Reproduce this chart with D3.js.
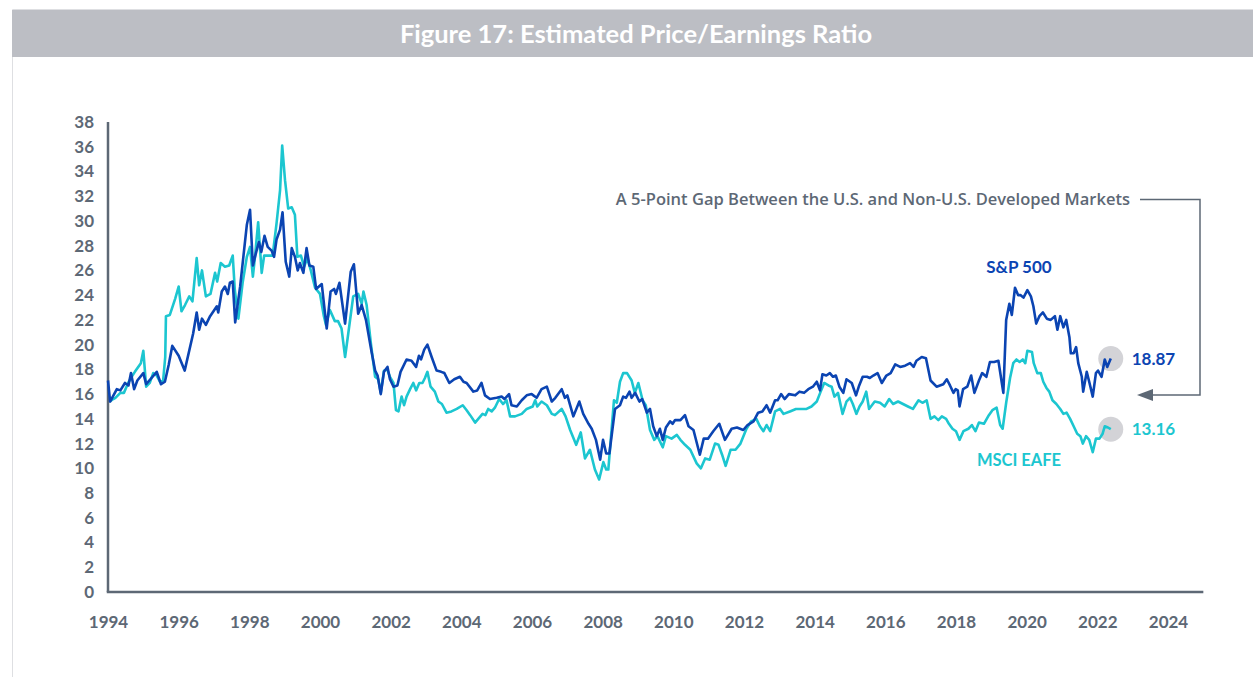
<!DOCTYPE html>
<html>
<head>
<meta charset="utf-8">
<script src="https://cdn.jsdelivr.net/npm/d3@7"></script>
<style>
  body { margin: 0; background: #fff; }
  svg { display: block; font-family: Lato, "Open Sans", sans-serif; }
</style>
</head>
<body>
<svg id="chart" width="1253" height="677"></svg>
<script>
// S&P 500 forward P/E (decimal years)
const spDates = [1994.00, 1994.06, 1994.25, 1994.35, 1994.48, 1994.58, 1994.65, 1994.74, 1994.83, 1995.00,
  1995.08, 1995.20, 1995.38, 1995.50, 1995.61, 1995.72, 1995.82, 1996.00, 1996.17, 1996.41,
  1996.51, 1996.58, 1996.66, 1996.77, 1996.89, 1997.08, 1997.12, 1997.22, 1997.31, 1997.39,
  1997.45, 1997.53, 1997.60, 1997.74, 1997.85, 1997.93, 1998.02, 1998.10, 1998.16, 1998.27,
  1998.34, 1998.43, 1998.52, 1998.63, 1998.70, 1998.77, 1998.87, 1998.94, 1999.03, 1999.13,
  1999.20, 1999.29, 1999.37, 1999.43, 1999.53, 1999.62, 1999.70, 1999.81, 1999.89, 2000.05,
  2000.19, 2000.30, 2000.40, 2000.45, 2000.55, 2000.71, 2000.87, 2000.96, 2001.08, 2001.18,
  2001.30, 2001.46, 2001.56, 2001.63, 2001.72, 2001.81, 2001.91, 2001.98, 2002.08, 2002.19,
  2002.28, 2002.45, 2002.59, 2002.72, 2002.80, 2002.86, 2002.95, 2003.04, 2003.16, 2003.30,
  2003.43, 2003.52, 2003.66, 2003.80, 2003.96, 2004.06, 2004.15, 2004.34, 2004.45, 2004.57,
  2004.67, 2004.81, 2005.00, 2005.14, 2005.22, 2005.35, 2005.42, 2005.57, 2005.71, 2005.85,
  2005.99, 2006.13, 2006.27, 2006.42, 2006.56, 2006.66, 2006.84, 2006.93, 2007.00, 2007.17,
  2007.34, 2007.45, 2007.60, 2007.69, 2007.81, 2007.93, 2008.01, 2008.10, 2008.19, 2008.35,
  2008.49, 2008.58, 2008.66, 2008.76, 2008.82, 2008.92, 2009.04, 2009.12, 2009.25, 2009.34,
  2009.43, 2009.53, 2009.62, 2009.70, 2009.79, 2009.91, 2009.98, 2010.05, 2010.20, 2010.33,
  2010.43, 2010.57, 2010.75, 2010.86, 2010.98, 2011.13, 2011.30, 2011.46, 2011.65, 2011.80,
  2011.98, 2012.10, 2012.27, 2012.40, 2012.52, 2012.64, 2012.74, 2012.88, 2012.95, 2013.05,
  2013.15, 2013.27, 2013.45, 2013.57, 2013.70, 2013.82, 2013.95, 2014.06, 2014.15, 2014.22,
  2014.33, 2014.43, 2014.52, 2014.60, 2014.70, 2014.81, 2014.90, 2015.05, 2015.17, 2015.26,
  2015.36, 2015.48, 2015.56, 2015.66, 2015.78, 2015.90, 2016.03, 2016.15, 2016.28, 2016.42,
  2016.56, 2016.70, 2016.80, 2016.88, 2017.03, 2017.15, 2017.28, 2017.45, 2017.64, 2017.74,
  2017.83, 2017.93, 2017.99, 2018.05, 2018.10, 2018.20, 2018.32, 2018.43, 2018.52, 2018.65,
  2018.74, 2018.86, 2018.96, 2019.08, 2019.20, 2019.34, 2019.42, 2019.51, 2019.58, 2019.67,
  2019.76, 2019.83, 2019.91, 2020.02, 2020.12, 2020.19, 2020.27, 2020.36, 2020.46, 2020.57,
  2020.68, 2020.80, 2020.87, 2020.95, 2021.04, 2021.12, 2021.21, 2021.25, 2021.33, 2021.40,
  2021.46, 2021.56, 2021.60, 2021.70, 2021.77, 2021.87, 2021.96, 2022.02, 2022.12, 2022.21,
  2022.28, 2022.38]
const spValues = [17.1, 15.4, 16.4, 16.3, 16.9, 16.7, 17.7, 16.4, 17.1, 17.7,
  16.8, 17.2, 17.8, 16.8, 17.0, 18.4, 19.9, 19.1, 17.9, 20.9,
  22.6, 21.2, 22.1, 21.6, 22.3, 23.1, 22.6, 24.3, 24.7, 24.1,
  25.0, 25.1, 21.8, 24.7, 27.6, 29.7, 30.9, 26.4, 27.1, 28.3,
  27.5, 28.8, 27.9, 27.6, 27.1, 28.5, 29.3, 30.7, 26.7, 25.5,
  27.8, 27.1, 26.0, 26.6, 25.8, 27.8, 26.4, 26.3, 24.5, 24.9,
  21.3, 24.3, 24.5, 24.1, 25.0, 21.7, 25.9, 26.5, 22.5, 23.2,
  22.0, 19.4, 17.9, 17.5, 16.0, 17.8, 18.2, 17.2, 16.6, 16.7,
  17.8, 18.8, 18.7, 18.2, 19.1, 18.8, 19.6, 20.0, 19.0, 17.9,
  17.8, 17.7, 16.9, 17.2, 17.4, 17.0, 16.9, 16.2, 16.3, 16.9,
  15.9, 15.6, 15.7, 15.8, 15.6, 16.0, 15.1, 15.0, 15.5, 15.9,
  16.0, 15.7, 16.4, 16.6, 15.4, 15.7, 16.4, 15.7, 15.9, 14.2,
  15.4, 14.4, 13.6, 13.2, 12.3, 10.7, 12.3, 11.2, 11.2, 14.8,
  15.1, 15.8, 15.7, 16.2, 15.7, 16.1, 15.4, 15.6, 14.5, 14.8,
  13.4, 12.6, 13.2, 12.3, 13.3, 13.8, 13.6, 13.9, 13.9, 14.3,
  13.4, 13.1, 11.1, 12.4, 12.4, 13.0, 13.6, 12.3, 13.2, 13.3,
  13.1, 13.5, 13.8, 14.5, 14.6, 15.1, 14.5, 15.5, 15.5, 16.0,
  15.6, 16.0, 15.9, 16.2, 16.1, 16.4, 16.6, 17.0, 16.3, 17.6,
  17.5, 17.7, 17.4, 17.5, 16.6, 16.1, 17.2, 16.9, 15.9, 16.7,
  17.4, 17.4, 17.3, 17.5, 17.7, 16.9, 17.5, 17.7, 18.4, 18.2,
  18.3, 18.5, 18.2, 18.7, 19.0, 18.9, 17.1, 16.6, 16.8, 17.2,
  16.7, 16.1, 16.4, 16.3, 15.0, 16.4, 16.6, 17.5, 16.1, 17.1,
  17.7, 17.4, 18.6, 18.6, 18.7, 16.1, 22.0, 23.3, 22.4, 24.6,
  24.0, 24.0, 23.8, 24.4, 23.9, 23.1, 21.7, 22.3, 22.6, 22.1,
  22.0, 22.3, 21.2, 22.3, 21.4, 22.0, 20.6, 19.3, 19.3, 19.8,
  18.5, 17.4, 16.2, 17.8, 17.0, 15.8, 17.7, 17.9, 17.4, 18.8,
  18.2, 18.87]

// MSCI EAFE forward P/E
const eafeDates = [1994.05, 1994.15, 1994.21, 1994.35, 1994.45, 1994.57, 1994.67, 1994.76, 1994.88, 1994.93,
  1995.00, 1995.08, 1995.18, 1995.28, 1995.38, 1995.47, 1995.56, 1995.62, 1995.64, 1995.75,
  1995.90, 1996.00, 1996.08, 1996.18, 1996.30, 1996.39, 1996.51, 1996.58, 1996.66, 1996.77,
  1996.90, 1997.03, 1997.09, 1997.19, 1997.31, 1997.43, 1997.53, 1997.59, 1997.69, 1997.81,
  1997.93, 1998.02, 1998.10, 1998.16, 1998.25, 1998.35, 1998.42, 1998.55, 1998.66, 1998.77,
  1998.87, 1998.93, 1999.01, 1999.10, 1999.20, 1999.29, 1999.36, 1999.46, 1999.55, 1999.64,
  1999.74, 1999.86, 2000.00, 2000.11, 2000.17, 2000.28, 2000.42, 2000.51, 2000.61, 2000.71,
  2000.80, 2000.94, 2001.08, 2001.18, 2001.23, 2001.32, 2001.44, 2001.56, 2001.65, 2001.72,
  2001.81, 2001.90, 2001.98, 2002.08, 2002.15, 2002.22, 2002.31, 2002.38, 2002.45, 2002.55,
  2002.64, 2002.72, 2002.81, 2002.90, 2002.97, 2003.04, 2003.13, 2003.25, 2003.35, 2003.45,
  2003.58, 2003.72, 2003.87, 2004.04, 2004.15, 2004.25, 2004.39, 2004.48, 2004.60, 2004.68,
  2004.76, 2004.86, 2004.95, 2005.07, 2005.18, 2005.28, 2005.38, 2005.52, 2005.71, 2005.85,
  2006.02, 2006.09, 2006.15, 2006.27, 2006.42, 2006.56, 2006.65, 2006.84, 2006.95, 2007.08,
  2007.25, 2007.38, 2007.50, 2007.64, 2007.78, 2007.90, 2008.02, 2008.10, 2008.16, 2008.32,
  2008.40, 2008.49, 2008.58, 2008.69, 2008.82, 2008.91, 2009.01, 2009.13, 2009.22, 2009.34,
  2009.46, 2009.55, 2009.70, 2009.79, 2009.95, 2010.10, 2010.20, 2010.33, 2010.48, 2010.66,
  2010.78, 2010.90, 2011.03, 2011.18, 2011.28, 2011.38, 2011.48, 2011.62, 2011.76, 2011.90,
  2012.07, 2012.20, 2012.35, 2012.45, 2012.55, 2012.64, 2012.74, 2012.88, 2013.02, 2013.12,
  2013.30, 2013.47, 2013.63, 2013.77, 2013.91, 2014.06, 2014.17, 2014.27, 2014.39, 2014.48,
  2014.56, 2014.66, 2014.79, 2014.90, 2015.00, 2015.08, 2015.18, 2015.27, 2015.36, 2015.46,
  2015.54, 2015.70, 2015.85, 2015.98, 2016.11, 2016.22, 2016.36, 2016.50, 2016.64, 2016.78,
  2016.94, 2017.05, 2017.17, 2017.28, 2017.39, 2017.50, 2017.60, 2017.72, 2017.80, 2017.90,
  2018.00, 2018.10, 2018.21, 2018.35, 2018.45, 2018.55, 2018.65, 2018.79, 2018.93, 2019.03,
  2019.15, 2019.25, 2019.32, 2019.42, 2019.53, 2019.62, 2019.71, 2019.80, 2019.89, 2019.96,
  2020.02, 2020.15, 2020.20, 2020.30, 2020.40, 2020.47, 2020.56, 2020.64, 2020.73, 2020.84,
  2020.95, 2021.04, 2021.13, 2021.23, 2021.33, 2021.43, 2021.52, 2021.59, 2021.68, 2021.77,
  2021.87, 2021.96, 2022.06, 2022.15, 2022.21, 2022.30, 2022.38]
const eafeValues = [15.4, 15.6, 15.7, 16.1, 16.1, 16.9, 17.4, 17.8, 18.3, 18.5,
  19.5, 16.6, 16.9, 17.7, 17.5, 17.0, 17.1, 19.0, 22.3, 22.4,
  23.7, 24.7, 22.7, 23.2, 23.9, 23.5, 27.0, 24.8, 26.0, 23.9,
  24.1, 25.8, 25.1, 26.6, 26.3, 26.4, 27.2, 24.4, 22.1, 25.0,
  27.1, 27.9, 25.5, 27.1, 29.9, 25.8, 27.2, 27.2, 27.2, 29.8,
  32.5, 36.1, 33.3, 31.0, 31.1, 30.5, 27.1, 27.2, 26.3, 27.0,
  26.0, 24.6, 24.1, 22.3, 21.6, 22.8, 21.9, 21.9, 21.3, 19.0,
  20.9, 23.9, 24.1, 23.3, 24.3, 23.2, 20.1, 17.4, 17.2, 16.1,
  17.9, 18.0, 17.4, 16.9, 14.7, 14.6, 15.8, 15.1, 15.8, 16.4,
  16.9, 16.3, 16.9, 16.9, 17.3, 17.8, 16.6, 16.2, 15.4, 15.2,
  14.5, 14.6, 14.8, 15.1, 14.7, 14.3, 13.7, 14.0, 14.4, 14.3,
  14.8, 14.6, 14.9, 15.6, 15.2, 15.5, 14.2, 14.2, 14.4, 14.8,
  15.0, 15.5, 15.0, 15.4, 15.1, 14.4, 14.3, 14.8, 14.2, 13.1,
  11.9, 12.9, 10.8, 11.5, 9.9, 9.1, 10.5, 9.9, 9.9, 15.5,
  15.3, 17.0, 17.7, 17.7, 17.1, 16.1, 16.9, 15.5, 15.1, 13.1,
  12.3, 12.6, 11.7, 12.6, 12.4, 12.7, 12.3, 11.9, 11.5, 10.4,
  10.0, 10.8, 10.7, 12.0, 11.9, 11.1, 10.2, 11.5, 11.5, 12.0,
  13.2, 13.8, 14.0, 13.4, 13.0, 13.5, 13.0, 14.6, 14.8, 14.4,
  14.6, 14.8, 14.8, 14.8, 15.0, 15.4, 16.2, 16.9, 16.7, 16.6,
  15.8, 16.1, 14.4, 15.4, 15.7, 15.2, 14.4, 15.0, 15.4, 16.2,
  14.8, 15.4, 15.3, 15.0, 15.6, 15.2, 15.4, 15.2, 15.0, 14.8,
  15.5, 15.3, 15.5, 14.0, 14.2, 13.9, 14.2, 14.0, 13.6, 13.2,
  13.0, 12.3, 13.0, 13.2, 13.5, 13.0, 13.7, 13.6, 14.3, 14.7,
  14.9, 13.5, 13.2, 15.3, 17.3, 18.5, 18.8, 18.6, 18.8, 18.5,
  19.5, 19.4, 18.5, 17.7, 17.7, 17.0, 16.5, 16.2, 15.5, 15.2,
  14.8, 14.4, 14.5, 14.0, 13.4, 12.8, 12.6, 12.0, 12.6, 12.3,
  11.3, 12.4, 12.4, 12.8, 13.4, 13.3, 13.16]

const yTicks = d3.range(0, 39, 2)
const xTicks = d3.range(1994, 2025, 2)

const title = 'Figure 17: Estimated Price/Earnings Ratio'
const note = 'A 5-Point Gap Between the U.S. and Non-U.S. Developed Markets'

const grey = '#5d6875'
const blue = '#0b44b2'
const cyan = '#1cc6d0'

const svg = d3.select('#chart')

// frame + title bar
svg.append('path')
  .attr('d', 'M12.5,677 V9.5 H1253')
  .attr('fill', 'none')
  .attr('stroke', '#dedfe2')
svg.append('rect')
  .attr('x', 12).attr('y', 10)
  .attr('width', 1241).attr('height', 47)
  .attr('fill', '#bcbec4')
svg.append('text')
  .attr('x', 636).attr('y', 43)
  .attr('text-anchor', 'middle')
  .attr('fill', '#fff')
  .attr('font-size', 25.5)
  .attr('font-weight', 700)
  .text(title)

const x = d3.scaleLinear().domain([1994, 2024]).range([108, 1168])
const y = d3.scaleLinear().domain([0, 38]).range([592, 122])

// axes
const yAxis = svg.append('g')
  .attr('transform', `translate(${x(1994)},0)`)
  .call(d3.axisLeft(y).tickValues(yTicks).tickSize(0).tickPadding(14))
yAxis.select('.domain').remove()

const xAxis = svg.append('g')
  .attr('transform', `translate(0,${y(0)})`)
  .call(d3.axisBottom(x).tickValues(xTicks).tickFormat(d3.format('d')).tickSize(0).tickPadding(24))
xAxis.select('.domain').remove()

svg.selectAll('.tick text')
  .attr('fill', grey)
  .attr('font-size', 17)
  .attr('font-weight', 700)
  .attr('font-family', 'Lato, sans-serif')

svg.append('line')
  .attr('x1', x(1994)).attr('x2', x(1994))
  .attr('y1', y(38)).attr('y2', y(0))
  .attr('stroke', grey).attr('stroke-width', 2.5)
svg.append('line')
  .attr('x1', x(1994) - 1.25).attr('x2', x(2025))
  .attr('y1', y(0)).attr('y2', y(0))
  .attr('stroke', grey).attr('stroke-width', 2.5)

// series
const line = d3.line()
  .x(d => x(d[0]))
  .y(d => y(d[1]))

const spData = d3.zip(spDates, spValues)
const eafeData = d3.zip(eafeDates, eafeValues)

// end markers behind lines
const ends = [
  {d: spData[spData.length - 1], color: blue},
  {d: eafeData[eafeData.length - 1], color: cyan}
]
svg.selectAll('circle.end')
  .data(ends)
  .enter()
  .append('circle')
  .attr('class', 'end')
  .attr('cx', e => x(e.d[0]))
  .attr('cy', e => y(e.d[1]))
  .attr('r', 12.5)
  .attr('fill', '#d3d3d7')

svg.append('path')
  .datum(eafeData)
  .attr('d', line)
  .attr('fill', 'none')
  .attr('stroke', cyan)
  .attr('stroke-width', 2.6)
  .attr('stroke-linejoin', 'round')

svg.append('path')
  .datum(spData)
  .attr('d', line)
  .attr('fill', 'none')
  .attr('stroke', blue)
  .attr('stroke-width', 2.6)
  .attr('stroke-linejoin', 'round')

// end values
svg.selectAll('text.endval')
  .data(ends)
  .enter()
  .append('text')
  .attr('class', 'endval')
  .attr('x', e => x(e.d[0]) + 21)
  .attr('y', e => y(e.d[1]) + 6)
  .attr('fill', e => e.color)
  .attr('font-size', 17)
  .attr('font-weight', 700)
  .text(e => e.d[1].toFixed(2))

// series labels
svg.append('text')
  .attr('x', 1019).attr('y', 273)
  .attr('text-anchor', 'middle')
  .attr('fill', blue)
  .attr('font-size', 17)
  .attr('font-weight', 700)
  .text('S&P 500')
svg.append('text')
  .attr('x', 1019).attr('y', 466)
  .attr('text-anchor', 'middle')
  .attr('fill', cyan)
  .attr('font-size', 16.5)
  .attr('font-weight', 700)
  .text('MSCI EAFE')

// annotation with connector arrow
svg.append('text')
  .attr('x', 1130).attr('y', 205)
  .attr('text-anchor', 'end')
  .attr('fill', grey)
  .attr('font-size', 16.5)
  .attr('font-weight', 600)
  .attr('font-family', '"Open Sans", sans-serif')
  .text(note)

svg.append('path')
  .attr('d', 'M1140,199.5 H1200 V395 H1150')
  .attr('fill', 'none')
  .attr('stroke', grey)
  .attr('stroke-width', 1.5)
svg.append('path')
  .attr('d', 'M1137,395 L1153,389 L1153,401 Z')
  .attr('fill', grey)
</script>
</body>
</html>
